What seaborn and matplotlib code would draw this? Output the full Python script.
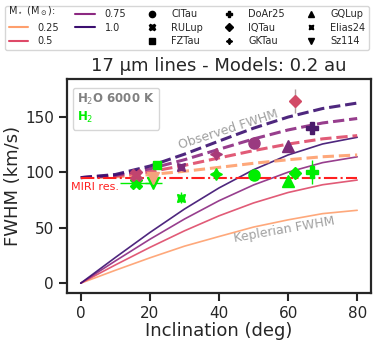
import numpy as np
import pandas as pd
import seaborn as sns
import matplotlib.pyplot as plt
from matplotlib.lines import Line2D

# model curves, FWHM (km/s) vs inclination (deg)
incl = [0, 10, 20, 30, 40, 50, 60, 70, 80]
masses = ['0.25', '0.5', '0.75', '1.0']
kep_025 = [0, 11.6, 22.8, 33.3, 42.0, 50.5, 57.0, 62.6, 65.6]
kep_050 = [0, 16.4, 32.2, 47.1, 60.6, 72.2, 81.6, 88.6, 92.8]
kep_075 = [0, 20.0, 39.5, 57.7, 74.2, 88.4, 99.9, 108.5, 113.7]
kep_100 = [0, 23.1, 45.6, 66.7, 85.7, 102.1, 115.4, 125.3, 131.3]
obs_025 = [95, 95.7, 97.7, 100.7, 104.2, 107.9, 111.1, 113.8, 115.4]
obs_050 = [95, 96.4, 100.3, 106.0, 112.7, 119.3, 125.2, 129.9, 132.8]
obs_075 = [95, 97.1, 102.9, 111.1, 120.5, 129.8, 137.9, 144.2, 148.2]
obs_100 = [95, 97.8, 105.4, 116.1, 127.9, 139.5, 149.5, 157.2, 162.1]
miri_res = 95

# observed sources
stars = ['CITau', 'RULup', 'FZTau', 'DoAr25', 'IQTau', 'GKTau', 'GQLup', 'Elias24', 'Sz114']
star_incl = [50, 16, 22, 67, 62, 39, 60, 29, 21]
fwhm_h2o = [126, 97, np.nan, 140, 164, 116, 123.5, 105, 95]
err_h2o = [0, 0, 0, 0, 11, 0, 0, 0, 0]
fwhm_h2 = [97, 90, 106, 100, 99, 98, 92, 77, 90]
err_h2 = [0, 0, 0, 11, 0, 0, 0, 5, 0]
xerr_h2 = [0, 4.7, 0, 0, 0, 0, 0, 0, 2.5]

markers = ['o', 'X', 's', 'P', 'D', (4, 1, 0), '^', (4, 1, 45), 'v']
msizes = [8, 8, 6, 8, 6.5, 8.5, 8, 8, 8.5]
h2o_colors = ['#9a3a80', '#c1446e', '#7a2a78', '#4a1a6a', '#d24a66',
              '#a83a78', '#7a2c78', '#7a2a78', '#f4a27c']
h2_color = '#00ee00'

sns.set_theme(style='ticks')
plt.rcParams['font.family'] = ['DejaVu Sans']
plt.rcParams['axes.linewidth'] = 1.6
plt.rcParams['xtick.major.width'] = 1.5
plt.rcParams['ytick.major.width'] = 1.5
plt.rcParams['xtick.major.size'] = 6
plt.rcParams['ytick.major.size'] = 6

pal = sns.color_palette('magma_r', 4)

kep_df = pd.DataFrame({'incl': incl * 4,
                       'fwhm': kep_025 + kep_050 + kep_075 + kep_100,
                       'mass': np.repeat(masses, len(incl))})
obs_df = pd.DataFrame({'incl': incl * 4,
                       'fwhm': obs_025 + obs_050 + obs_075 + obs_100,
                       'mass': np.repeat(masses, len(incl))})

fig = plt.figure(figsize=(3.74, 3.45), dpi=100)
ax = fig.add_axes([0.179, 0.151, 0.813, 0.620])

sns.lineplot(data=kep_df, x='incl', y='fwhm', hue='mass', hue_order=masses,
             palette=pal, lw=1.2, alpha=0.9, legend=False, ax=ax)
sns.lineplot(data=obs_df, x='incl', y='fwhm', hue='mass', hue_order=masses,
             palette=pal, lw=2.2, linestyle='--', alpha=0.9, legend=False, ax=ax)
ax.plot([incl[0], incl[-1]], [miri_res, miri_res], color='#ff2020', lw=1.5, ls='-.')

# H2 first, H2O drawn on top
for i in range(len(stars)):
    ax.errorbar(star_incl[i], fwhm_h2[i], yerr=err_h2[i] or None, xerr=xerr_h2[i] or None,
                marker=markers[i], ms=msizes[i], color=h2_color, ls='none',
                elinewidth=1, ecolor=h2_color, zorder=3)
for i in range(len(stars)):
    if np.isnan(fwhm_h2o[i]):
        continue
    ax.errorbar(star_incl[i], fwhm_h2o[i], yerr=err_h2o[i] or None,
                marker=markers[i], ms=msizes[i], color=h2o_colors[i], ls='none',
                elinewidth=1, ecolor='#b0a0a0', zorder=4)

ax.text(-2.7, 86.5, 'MIRI res.', color='#ff2020', fontsize=8, va='center', ha='left')
ax.text(42.6, 138, 'Observed FWHM', color='#a0a0a0', fontsize=9, rotation=18,
        ha='center', va='center', rotation_mode='anchor')
ax.text(58.9, 48, 'Keplerian FWHM', color='#a0a0a0', fontsize=9, rotation=10,
        ha='center', va='center', rotation_mode='anchor')

ax.set_xlim(-4, 84)
ax.set_ylim(-8.75, 183.75)
ax.set_xticks([0, 20, 40, 60, 80])
ax.set_yticks([0, 50, 100, 150])
ax.tick_params(labelsize=11)
ax.set_xlabel('Inclination (deg)', fontsize=13, labelpad=1)
ax.set_ylabel('FWHM (km/s)', fontsize=13, labelpad=2)
ax.set_title('17 µm lines - Models: 0.2 au', fontsize=13)

blank = Line2D([], [], lw=0)
ax.legend([blank, blank], ['H$_2$O 6000 K', 'H$_2$'], loc='upper left',
          handlelength=0, handletextpad=0, labelcolor=['gray', h2_color],
          prop={'weight': 'bold', 'size': 8.5}, borderpad=0.35, labelspacing=0.25,
          bbox_to_anchor=(0.0, 0.985))

handles = [blank]
labels = ['']
for m, c in zip(masses, pal):
    handles.append(Line2D([], [], color=c, lw=1.5))
    labels.append(m)
handles.append(blank)
labels.append('')
for s, mk in zip(stars, markers):
    handles.append(Line2D([], [], marker=mk, color='black', ls='none', ms=4.5))
    labels.append(s)
fig.legend(handles, labels, ncol=5, loc='upper center', bbox_to_anchor=(0.5, 0.997),
           fontsize=7, handlelength=2.0, handletextpad=1.0, columnspacing=1.65,
           labelspacing=0.35, borderpad=0.35)
fig.text(8 / 374, 1 - 11 / 345, r'M$_\star$ (M$_\odot$):', fontsize=7,
         ha='left', va='center', zorder=10)

fig.savefig('out.png', dpi=100)
